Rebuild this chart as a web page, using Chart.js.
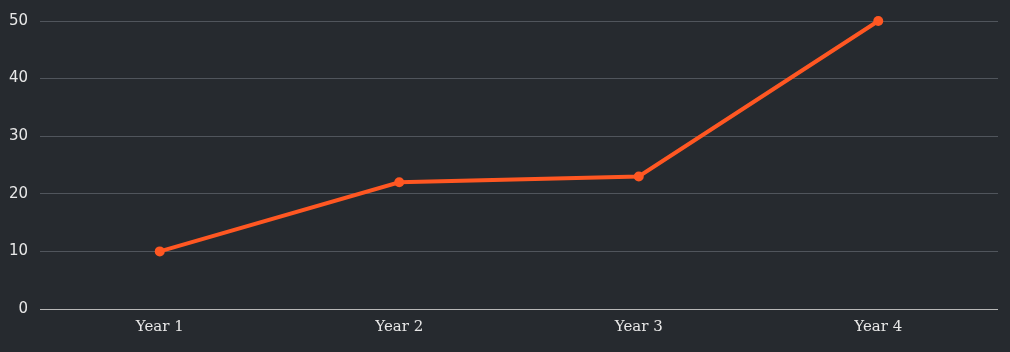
<!DOCTYPE html>
<html>
<head>
<meta charset="utf-8">
<script src="https://cdn.jsdelivr.net/npm/chart.js@4"></script>
<style>
  html, body { margin: 0; padding: 0; background: #262a2f; }
  #wrap { width: 1010px; height: 352px; }
</style>
</head>
<body>
<div id="wrap"><canvas id="chart"></canvas></div>
<script>
// chart data
const categories = ['Year 1', 'Year 2', 'Year 3', 'Year 4'];
const values = [10, 22, 23, 50];
const yTicks = { min: 0, max: 50, step: 10 };

const lineColor = '#ff5722';

const ctx = document.getElementById('chart').getContext('2d');
new Chart(ctx, {
    type: 'line',
    data: {
        labels: categories,
        datasets: [{
            data: values,
            borderColor: lineColor,
            backgroundColor: lineColor,
            borderWidth: 4,
            pointRadius: 5,
            pointBorderWidth: 0,
            pointHoverRadius: 5,
            tension: 0,
            fill: false,
            clip: false // keep the top point whole
        }]
    },
    options: {
        responsive: true,
        maintainAspectRatio: false,
        animation: false,
        layout: { padding: { top: 20, right: 12, left: 0, bottom: 0 } },
        plugins: {
            legend: { display: false },
            tooltip: { enabled: false }
        },
        scales: {
            x: {
                offset: true,
                grid: { display: false, drawTicks: false },
                border: { display: false },
                ticks: {
                    color: '#e8e8e8',
                    padding: 9,
                    font: { family: 'DejaVu Serif', size: 15 }
                },
                afterFit: (scale) => { scale.height = 43; }
            },
            y: {
                min: yTicks.min,
                max: yTicks.max,
                grid: {
                    drawTicks: false,
                    color: (c) => c.tick && c.tick.value === 0 ? '#b8b8b8' : '#50555c',
                    lineWidth: 1
                },
                border: { display: false },
                ticks: {
                    stepSize: yTicks.step,
                    color: '#e8e8e8',
                    padding: 12,
                    font: { family: 'DejaVu Sans', size: 15 }
                },
                afterFit: (scale) => { scale.width = 40; }
            }
        }
    }
});
</script>
</body>
</html>
